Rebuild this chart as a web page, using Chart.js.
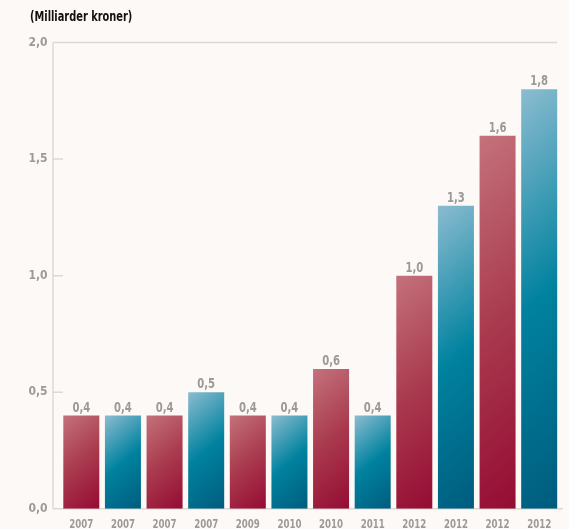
<!DOCTYPE html>
<html>
<head>
<meta charset="utf-8">
<script src="https://cdn.jsdelivr.net/npm/chart.js@4"></script>
<style>
  html, body { margin: 0; padding: 0; background: #fcf9f6; }
  #wrap { width: 569px; height: 529px; }
</style>
</head>
<body>
<div id="wrap"><canvas id="chart" width="569" height="529"></canvas></div>
<script>
const years = ["2007", "2007", "2007", "2007", "2009", "2010", "2010", "2011", "2012", "2012", "2012", "2012"];
const amounts = [0.4, 0.4, 0.4, 0.5, 0.4, 0.4, 0.6, 0.4, 1.0, 1.3, 1.6, 1.8];
const yTicks = [0, 0.5, 1.0, 1.5, 2.0];
const unitLabel = "(Milliarder kroner)";

const FONT = "'DejaVu Sans Condensed', 'DejaVu Sans', sans-serif";
const GREY = "#9c9a98";
const LINE = "#dcd9d6";
const SQUEEZE = 0.8; // no narrow font installed, squeeze text a bit

// red / blue alternate
const redStops = ["#c4727b", "#a93a4e", "#950b33"];
const blueStops = ["#8cbcd0", "#00829f", "#005c7e"];

const fmt = (v) => v.toFixed(1).replace(".", ",");

function barFill(ctx) {
  const chart = ctx.chart;
  const stops = ctx.dataIndex % 2 === 0 ? redStops : blueStops;
  if (!chart.chartArea) return stops[1];
  const x = chart.scales.x.getPixelForValue(ctx.dataIndex);
  const top = chart.scales.y.getPixelForValue(amounts[ctx.dataIndex]);
  const base = chart.scales.y.getPixelForValue(0);
  const w = 36, h = base - top;
  const cx = x, cy = (top + base) / 2;
  // angled gradient, light top-left to dark bottom-right
  const dx = 0.64, dy = 0.77;
  const half = (w * dx + h * dy) / 2;
  const g = chart.ctx.createLinearGradient(cx - dx * half, cy - dy * half, cx + dx * half, cy + dy * half);
  g.addColorStop(0, stops[0]);
  g.addColorStop(0.5, stops[1]);
  g.addColorStop(1, stops[2]);
  return g;
}

function squeezedText(ctx, text, x, y, k) {
  ctx.save();
  ctx.translate(x, y);
  ctx.scale(k || SQUEEZE, 1);
  ctx.fillText(text, 0, 0);
  ctx.restore();
}

const framePlugin = {
  id: "frame",
  beforeDatasetsDraw(chart) {
    const { ctx, chartArea } = chart;
    const y = chart.scales.y;
    const left = chartArea.left - 7.5;
    ctx.save();
    ctx.strokeStyle = LINE;
    ctx.lineWidth = 1.5;
    ctx.beginPath();
    ctx.moveTo(left, chartArea.top);
    ctx.lineTo(left, chartArea.bottom);
    ctx.moveTo(left, chartArea.top);
    ctx.lineTo(chartArea.right - 3, chartArea.top);
    ctx.moveTo(left, chartArea.bottom);
    ctx.lineTo(chartArea.right + 3, chartArea.bottom);
    yTicks.slice(1, -1).forEach((t) => {
      const py = y.getPixelForValue(t);
      ctx.moveTo(left, py);
      ctx.lineTo(left + 10, py);
    });
    ctx.stroke();
    // title
    ctx.fillStyle = "#111";
    ctx.font = "bold 14px " + FONT;
    ctx.textBaseline = "middle";
    ctx.textAlign = "left";
    squeezedText(ctx, unitLabel, 30, 17, 0.78);
    ctx.restore();
  },
  afterDatasetsDraw(chart) {
    const { ctx } = chart;
    const meta = chart.getDatasetMeta(0);
    const xs = chart.scales.x;
    ctx.save();
    ctx.fillStyle = GREY;
    ctx.textAlign = "center";
    ctx.textBaseline = "alphabetic";
    ctx.font = "bold 14px " + FONT;
    meta.data.forEach((bar, i) => {
      squeezedText(ctx, fmt(amounts[i]), bar.x, bar.y - 4);
    });
    // year labels under the bars
    ctx.font = "bold 12px " + FONT;
    years.forEach((lbl, i) => {
      squeezedText(ctx, lbl, xs.getPixelForValue(i), 528);
    });
    ctx.restore();
  }
};

new Chart(document.getElementById("chart"), {
  type: "bar",
  data: {
    labels: years,
    datasets: [{
      data: amounts,
      backgroundColor: barFill,
      borderWidth: 0,
      barPercentage: 0.865,
      categoryPercentage: 1.0
    }]
  },
  options: {
    responsive: false,
    animation: false,
    layout: { padding: { top: 42.5, right: 9, bottom: 0, left: 0 } },
    plugins: {
      legend: { display: false },
      tooltip: { enabled: false }
    },
    scales: {
      x: {
        grid: { display: false, drawTicks: false },
        border: { display: false },
        afterFit: (s) => { s.height = 16; },
        ticks: { display: false }
      },
      y: {
        min: 0,
        max: 2,
        grid: { display: false, drawTicks: false },
        border: { display: false },
        afterFit: (s) => { s.width = 60.5; },
        afterBuildTicks: (s) => { s.ticks = yTicks.map((v) => ({ value: v })); },
        ticks: {
          color: GREY,
          font: { family: FONT, size: 12, weight: "bold" },
          padding: 13,
          callback: (v) => fmt(v)
        }
      }
    }
  },
  plugins: [framePlugin]
});
</script>
</body>
</html>
